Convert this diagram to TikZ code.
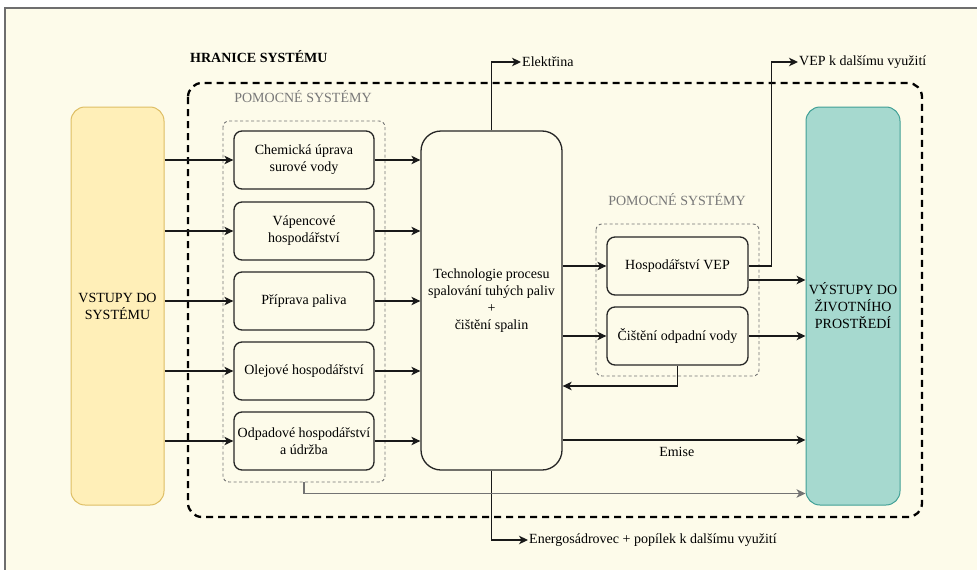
\documentclass[tikz,border=0pt]{standalone}
\usepackage{fontspec}
\setmainfont{Liberation Serif}
\newfontfamily\tmsfont{Liberation Serif}
\usetikzlibrary{arrows.meta,calc}
\definecolor{cream}{RGB}{253,251,234}
\definecolor{yfill}{RGB}{255,239,184}
\definecolor{ydraw}{RGB}{222,190,100}
\definecolor{tfill}{RGB}{166,217,207}
\definecolor{tdraw}{RGB}{64,160,150}
\definecolor{framegray}{RGB}{110,110,110}
\definecolor{lblgray}{RGB}{120,120,120}
\tikzset{
  txt/.style={font=\tmsfont\fontsize{14}{17}\selectfont, align=center, text=black},
  boxn/.style={txt, draw=black!85, line width=1.3pt, rounded corners=8pt, minimum width=140pt, minimum height=58pt, inner sep=1pt},
  bignode/.style={txt, draw=black!85, line width=1.3pt, rounded corners=20pt, minimum width=141pt, minimum height=339pt},
  conn/.style={line width=1.2pt, draw=black!90, -{Stealth[length=9pt,width=8.5pt,inset=2.5pt]}},
  grayconn/.style={line width=1.1pt, draw=black!55, -{Stealth[length=9pt,width=8.5pt,inset=2.5pt]}},
  boundary/.style={draw=black, line width=2.3pt, dash pattern=on 7pt off 5pt, rounded corners=14pt},
  subbound/.style={draw=black!55, line width=0.9pt, dash pattern=on 3pt off 2.5pt, rounded corners=6pt},
  graylbl/.style={font=\tmsfont\fontsize{14}{17}\selectfont, text=lblgray},
  outlbl/.style={txt, anchor=west, inner sep=1pt}
}
\begin{document}
\begin{tikzpicture}[x=1pt,y=-1pt]
\useasboundingbox (0,0) rectangle (977,570);
\fill[white] (0,0) rectangle (977,570);
\fill[cream] (5,8) rectangle (990,580);
\draw[framegray, line width=1.6pt] (5,590) -- (5,8) -- (990,8);

% title and boundary
\node[txt, anchor=west, inner sep=0pt, font=\tmsfont\fontsize{14}{17}\selectfont\bfseries] (title) at (190,57) {HRANICE SYSTÉMU};
\draw[boundary] (188,83) rectangle (922,517);

% left auxiliary systems
\node[graylbl] (pom1) at (303,97) {POMOCNÉ SYSTÉMY};
\draw[subbound] (223,121) rectangle (385,482);
\coordinate (sub1s) at (304,482);

% input / output bars
\node[txt, draw=ydraw, fill=yfill, line width=1pt, rounded corners=14pt, minimum width=93pt, minimum height=398pt] (vstupy) at (117.5,306) {VSTUPY DO\\SYSTÉMU};
\node[txt, draw=tdraw, fill=tfill, line width=1pt, rounded corners=14pt, minimum width=94pt, minimum height=398pt, inner sep=0pt] (vystupy) at (853,306) {VÝSTUPY DO\\ŽIVOTNÍHO\\PROSTŘEDÍ};

% left boxes
\node[boxn] (b1) at (304,160) {Chemická úprava\\surové vody};
\node[boxn] (b2) at (304,231) {Vápencové\\hospodářství};
\node[boxn] (b3) at (304,301) {Příprava paliva};
\node[boxn] (b4) at (304,371) {Olejové hospodářství};
\node[boxn] (b5) at (304,441) {Odpadové hospodářství\\a údržba};

% central box
\node[bignode] (tech) at (491.5,300.5) {Technologie procesu\\spalování tuhých paliv\\+\\čištění spalin};

% right auxiliary systems
\node[graylbl] (pom2) at (677,200) {POMOCNÉ SYSTÉMY};
\draw[subbound] (596,224) rectangle (759,376);
\node[boxn, minimum width=141pt] (hosp) at (677.5,266) {Hospodářství VEP};
\node[boxn, minimum width=141pt] (cist) at (677.5,336) {Čištění odpadní vody};

% output labels
\node[outlbl] (elek) at (521,62) {Elektřina};
\node[outlbl] (vep) at (798,62) {VEP k dalšímu využití};
\node[outlbl] (energ) at (528,540) {Energosádrovec + popílek k dalšímu využití};

% helper points on node borders
\coordinate (hospout) at ([yshift=-14pt]hosp.east);
\coordinate (techret) at ([yshift=-85.5pt]tech.east);
\coordinate (techemi) at ([yshift=-139.5pt]tech.east);
\coordinate (vysgray) at ([yshift=12pt]vystupy.south west);

% inputs
\foreach \b in {b1,b2,b3,b4,b5}{
  \draw[conn] (vstupy.east |- \b.west) -- (\b.west);
  \draw[conn] (\b.east) -- (tech.west |- \b.east);
}

% central outputs
\draw[conn] (tech.east |- hosp.west) -- (hosp.west);
\draw[conn] (tech.east |- cist.west) -- (cist.west);
\draw[conn] (cist.south) |- (techret);
\draw[conn] (hosp.east) -- ++(23,0) |- (vep.west);
\draw[conn] (hospout) -- (vystupy.west |- hospout);
\draw[conn] (cist.east) -- (vystupy.west |- cist.east);
\draw[conn] (techemi) -- (vystupy.west |- techemi) node[pos=0.47, below=6pt, txt, inner sep=1pt] (emise) {Emise};
\draw[conn] (tech.north) |- (elek.west);
\draw[conn] (tech.south) |- (energ.west);
\draw[grayconn] (sub1s) |- (vysgray);
\end{tikzpicture}
\end{document}
